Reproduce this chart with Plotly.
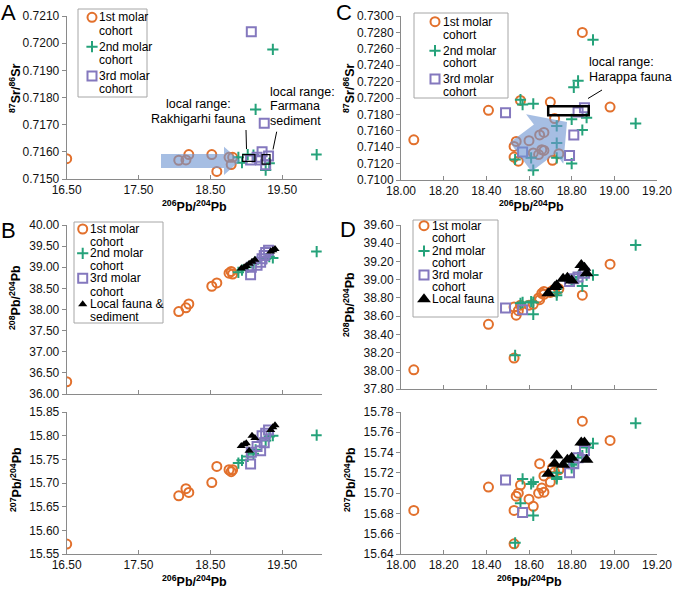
import plotly.graph_objects as go

W, H = 675, 590

# ---- Panels A/B (Rakhigarhi / Farmana) ----
ab_m1_pb206 = [16.50, 18.06, 18.16, 18.20, 18.52, 18.59, 18.76, 18.79, 18.81]
ab_m1_sr = [0.71575, 0.71569, 0.71570, 0.71590, 0.71590, 0.71528, 0.71580, 0.71553, 0.71580]
ab_m1_pb208 = [36.29, 37.95, 38.04, 38.13, 38.55, 38.63, 38.86, 38.90, 38.84]
ab_m1_pb207 = [15.571, 15.673, 15.688, 15.680, 15.701, 15.735, 15.728, 15.724, 15.728]

ab_m2_pb206 = [18.89, 18.94, 19.02, 19.10, 19.13, 19.27, 19.32, 19.37, 19.98]
ab_m2_sr = [0.71580, 0.71560, 0.71590, 0.71588, 0.71756, 0.71533, 0.71558, 0.71977, 0.71590]
ab_m2_pb208 = [38.88, 38.93, 39.00, 39.08, 39.12, 39.20, 39.25, 39.22, 39.37]
ab_m2_pb207 = [15.742, 15.748, 15.756, 15.762, 15.770, 15.790, 15.798, 15.800, 15.801]

ab_m3_pb206 = [19.06, 19.07, 19.15, 19.20, 19.22, 19.25, 19.27, 19.31]
ab_m3_sr = [0.71570, 0.72042, 0.71580, 0.71570, 0.71600, 0.71705, 0.71552, 0.71585]
ab_m3_pb208 = [38.82, 39.00, 39.05, 39.12, 39.20, 39.28, 39.35, 39.40]
ab_m3_pb207 = [15.740, 15.765, 15.777, 15.768, 15.800, 15.785, 15.805, 15.812]

ab_loc_pb206 = [18.93, 18.97, 19.00, 19.04, 19.08, 19.12, 19.34, 19.37, 19.40]
ab_loc_pb208 = [38.97, 39.00, 39.03, 39.08, 39.13, 39.18, 39.37, 39.40, 39.43]
ab_loc_pb207 = [15.778, 15.782, 15.784, 15.768, 15.800, 15.795, 15.812, 15.818, 15.822]

# ---- Panels C/D (Harappa) ----
cd_m1_pb206 = [18.06, 18.41, 18.53, 18.53, 18.54, 18.55, 18.56, 18.60, 18.62, 18.645,
               18.65, 18.66, 18.67, 18.67, 18.70, 18.71, 18.72, 18.74, 18.85, 18.98]
cd_m1_sr = [0.7149, 0.7185, 0.7128, 0.7141, 0.7147, 0.7123, 0.7197, 0.7148, 0.7133, 0.7131,
            0.7155, 0.7137, 0.7158, 0.7136, 0.7195, 0.7124, 0.7175, 0.7132, 0.7280, 0.7189]
cd_m1_pb208 = [38.01, 38.51, 38.14, 38.70, 38.61, 38.66, 38.72, 38.72, 38.73, 38.80,
               38.78, 38.85, 38.87, 38.84, 38.86, 38.88, 38.87, 38.90, 38.83, 39.17]
cd_m1_pb207 = [15.683, 15.706, 15.650, 15.683, 15.697, 15.700, 15.708, 15.694, 15.687, 15.700,
               15.729, 15.705, 15.717, 15.701, 15.711, 15.725, 15.721, 15.723, 15.771, 15.752]

cd_m2_pb206 = [18.535, 18.56, 18.57, 18.61, 18.62, 18.62, 18.73, 18.73, 18.73, 18.80,
               18.80, 18.81, 18.83, 18.85, 18.87, 18.90, 19.10]
cd_m2_sr = [0.7125, 0.7198, 0.7192, 0.7127, 0.7193, 0.7112, 0.7166, 0.7145, 0.7127, 0.7174,
            0.7120, 0.7213, 0.7221, 0.7161, 0.7176, 0.7271, 0.7169]
cd_m2_pb208 = [38.17, 38.74, 38.75, 38.76, 38.62, 38.75, 38.83, 38.90, 38.86, 38.98,
               39.00, 39.02, 39.03, 38.93, 39.05, 39.05, 39.38]
cd_m2_pb207 = [15.651, 15.690, 15.714, 15.709, 15.678, 15.711, 15.714, 15.716, 15.720, 15.725,
               15.728, 15.730, 15.735, 15.737, 15.745, 15.749, 15.769]

cd_m3_pb206 = [18.49, 18.57, 18.79, 18.81, 18.83, 18.86]
cd_m3_sr = [0.7182, 0.7134, 0.7130, 0.7155, 0.7183, 0.7188]
cd_m3_pb208 = [38.69, 38.67, 38.98, 39.01, 39.03, 39.07]
cd_m3_pb207 = [15.713, 15.681, 15.720, 15.729, 15.735, 15.742]

cd_loc_pb206 = [18.69, 18.72, 18.73, 18.76, 18.78, 18.80, 18.845, 18.86, 18.87]
cd_loc_pb208 = [38.85, 38.92, 38.94, 39.01, 39.02, 38.99, 39.16, 39.13, 39.07]
cd_loc_pb207 = [15.719, 15.729, 15.737, 15.728, 15.733, 15.735, 15.750, 15.750, 15.733]

# local range boxes (data units): x0, x1, y0, y1
rakhigarhi_range = [18.95, 19.12, 0.71565, 0.71590]
farmana_range = [19.22, 19.33, 0.71555, 0.71590]
harappa_range = [18.69, 18.88, 0.7179, 0.7190]

ORANGE = "#E2702C"
GREEN = "#25A27A"
PURPLE = "#8478BE"
FONT = "Liberation Sans, Arial, sans-serif"
AXC = "#8a8a8a"

STY = {
    "m1": dict(symbol="circle-open", size=9, color=ORANGE, line=dict(color=ORANGE, width=2)),
    "m2": dict(symbol="cross-thin-open", size=8, color=GREEN, line=dict(color=GREEN, width=2)),
    "m3": dict(symbol="square-open", size=9, color=PURPLE, line=dict(color=PURPLE, width=2)),
    "loc": dict(symbol="triangle-up", size=8, color="black", line=dict(width=0)),
    "locD": dict(symbol="triangle-up", size=12, color="black", line=dict(width=0)),
}


def pxx(x):
    return x / W


def pyy(y):
    return 1 - y / H


fig = go.Figure()


def add(xs, ys, key, ax):
    fig.add_trace(go.Scatter(x=xs, y=ys, mode="markers", marker=STY[key],
                             xaxis="x" + ax, yaxis="y" + ax, showlegend=False,
                             hoverinfo="x+y"))


# A
add(ab_m1_pb206, ab_m1_sr, "m1", "")
add(ab_m2_pb206, ab_m2_sr, "m2", "")
add(ab_m3_pb206, ab_m3_sr, "m3", "")
# B top
add(ab_m1_pb206, ab_m1_pb208, "m1", "2")
add(ab_m2_pb206, ab_m2_pb208, "m2", "2")
add(ab_m3_pb206, ab_m3_pb208, "m3", "2")
add(ab_loc_pb206, ab_loc_pb208, "loc", "2")
# B bottom
add(ab_m1_pb206, ab_m1_pb207, "m1", "3")
add(ab_m2_pb206, ab_m2_pb207, "m2", "3")
add(ab_m3_pb206, ab_m3_pb207, "m3", "3")
add(ab_loc_pb206, ab_loc_pb207, "loc", "3")
# C
add(cd_m1_pb206, cd_m1_sr, "m1", "4")
add(cd_m2_pb206, cd_m2_sr, "m2", "4")
add(cd_m3_pb206, cd_m3_sr, "m3", "4")
# D top
add(cd_m1_pb206, cd_m1_pb208, "m1", "5")
add(cd_m2_pb206, cd_m2_pb208, "m2", "5")
add(cd_m3_pb206, cd_m3_pb208, "m3", "5")
add(cd_loc_pb206, cd_loc_pb208, "locD", "5")
# D bottom
add(cd_m1_pb206, cd_m1_pb207, "m1", "6")
add(cd_m2_pb206, cd_m2_pb207, "m2", "6")
add(cd_m3_pb206, cd_m3_pb207, "m3", "6")
add(cd_loc_pb206, cd_loc_pb207, "locD", "6")


def xaxis(x0, x1, rng, dtick, labels=True):
    return dict(domain=[pxx(x0), pxx(x1)], range=rng, tick0=rng[0], dtick=dtick,
                tickformat=".2f", showgrid=False, zeroline=False, showline=True,
                linecolor=AXC, linewidth=1, ticks="inside", ticklen=4, tickcolor=AXC,
                automargin=False,
                showticklabels=labels, tickfont=dict(size=12, color="#111", family=FONT),
                fixedrange=True)


def yaxis(top, bottom, rng, dtick, fmt, anchor):
    return dict(domain=[pyy(bottom), pyy(top)], range=rng, tick0=rng[0], dtick=dtick,
                tickformat=fmt, showgrid=False, zeroline=False, showline=True,
                linecolor=AXC, linewidth=1, ticks="outside", ticklen=4, tickcolor=AXC,
                automargin=False,
                tickfont=dict(size=12, color="#111", family=FONT), anchor=anchor,
                fixedrange=True)


AB_X = (66.7, 321.7)
CD_X = (401.0, 657.0)
ab_xr = [16.5, 20.05]
cd_xr = [18.0, 19.2]

fig.update_layout(
    xaxis=dict(xaxis(*AB_X, ab_xr, 1.0), anchor="y"),
    yaxis=yaxis(16, 179, [0.715, 0.721], 0.001, ".4f", "x"),
    xaxis2=dict(xaxis(*AB_X, ab_xr, 1.0, labels=False), anchor="y2"),
    yaxis2=yaxis(225, 394, [36.0, 40.0], 0.5, ".2f", "x2"),
    xaxis3=dict(xaxis(*AB_X, ab_xr, 1.0), anchor="y3"),
    yaxis3=yaxis(412, 554, [15.55, 15.85], 0.05, ".2f", "x3"),
    xaxis4=dict(xaxis(*CD_X, cd_xr, 0.2), anchor="y4"),
    yaxis4=yaxis(16, 180, [0.710, 0.730], 0.002, ".4f", "x4"),
    xaxis5=dict(xaxis(*CD_X, cd_xr, 0.2, labels=False), anchor="y5"),
    yaxis5=yaxis(225, 389, [37.8, 39.6], 0.2, ".2f", "x5"),
    xaxis6=dict(xaxis(*CD_X, cd_xr, 0.2), anchor="y6"),
    yaxis6=yaxis(412, 554, [15.64, 15.78], 0.02, ".2f", "x6"),
    # pixel-space overlay for legend symbols
    xaxis7=dict(domain=[0, 1], range=[0, W], visible=False, fixedrange=True,
                automargin=False, anchor="y7"),
    yaxis7=dict(domain=[0, 1], range=[H, 0], visible=False, fixedrange=True,
                automargin=False, anchor="x7"),
)


def text(x, y, s, size=12, anchor="left", angle=0, bold=False):
    if bold:
        s = "<b>" + s + "</b>"
    fig.add_annotation(x=pxx(x), y=pyy(y), xref="paper", yref="paper", text=s,
                       showarrow=False, xanchor=anchor, yanchor="middle", textangle=angle,
                       font=dict(size=size, color="#000", family=FONT))


def line(x0, y0, x1, y1, width=1):
    fig.add_shape(type="line", xref="paper", yref="paper", x0=pxx(x0), y0=pyy(y0),
                  x1=pxx(x1), y1=pyy(y1), line=dict(color="black", width=width), layer="above")


def poly(points, color="rgba(112,150,210,0.62)"):
    d = "M " + " L ".join("%f,%f" % (pxx(a), pyy(b)) for a, b in points) + " Z"
    fig.add_shape(type="path", path=d, xref="paper", yref="paper", fillcolor=color,
                  line=dict(width=0), layer="above")


# axis titles
PB_X = "<sup>206</sup>Pb/<sup>204</sup>Pb"
text(195, 206, PB_X, 12.5, "center", bold=True)
text(195, 581, PB_X, 12.5, "center", bold=True)
text(531, 206, PB_X, 12.5, "center", bold=True)
text(529, 581, PB_X, 12.5, "center", bold=True)
SR_Y = "<sup>87</sup>Sr/<sup>86</sup>Sr"
text(15, 89, SR_Y, 12.5, "center", -90, True)
text(349, 89, SR_Y, 12.5, "center", -90, True)
text(15, 298, "<sup>208</sup>Pb/<sup>204</sup>Pb", 12.5, "center", -90, True)
text(349, 305, "<sup>208</sup>Pb/<sup>204</sup>Pb", 12.5, "center", -90, True)
text(16, 480, "<sup>207</sup>Pb/<sup>204</sup>Pb", 12.5, "center", -90, True)
text(350, 480, "<sup>207</sup>Pb/<sup>204</sup>Pb", 12.5, "center", -90, True)

# panel letters
text(8, 13, "A", 22, "center")
text(8, 231, "B", 22, "center")
text(344, 13, "C", 22, "center")
text(348, 229, "D", 22, "center")

# arrows (semi-transparent blue)
poly([(161, 154), (224, 154), (224, 146.7), (240, 160.7), (224, 175), (224, 168), (161, 168)])
poly([(509.9, 142.6), (533.9, 124.6), (526.1, 114.2), (567, 122), (563.3, 163.8),
      (555.5, 153.4), (531.5, 171.4)])

# local range boxes
for rng, ax, w in [(rakhigarhi_range, "", 1.2), (farmana_range, "", 1.2), (harappa_range, "4", 2.5)]:
    fig.add_shape(type="rect", xref="x" + ax, yref="y" + ax, x0=rng[0], x1=rng[1],
                  y0=rng[2], y1=rng[3], line=dict(color="black", width=w), layer="above")

# range labels
text(198, 104, "local range:", 12.5, "center")
text(198, 119, "Rakhigarhi fauna", 12.5, "center")
line(246, 130, 246.5, 149)
text(268, 92, "local range:", 12.5)
text(268, 106.5, "Farmana", 12.5)
text(268, 121, "sediment", 12.5)
line(276.7, 131.7, 273, 149.5)
text(587, 62, "local range:", 12.5)
text(587, 77, "Harappa fauna", 12.5)
line(588, 98.5, 602, 90)

# legends: box, marker x, text x, rows (style, marker y, text lines with y)
legends = [
    ((78, 9, 147, 97), 92, 97, [("m1", 17.3, ["1st molar", "cohort"], [17.3, 30.7]),
                               ("m2", 46.7, ["2nd molar", "cohort"], [46.7, 60]),
                               ("m3", 76, ["3rd molar", "cohort"], [76, 89.3])]),
    ((414, 13, 508, 98), 435, 441, [("m1", 21.7, ["1st molar", "cohort"], [21.7, 35]),
                                    ("m2", 50.7, ["2nd molar", "cohort"], [50.7, 63]),
                                    ("m3", 79, ["3rd molar", "cohort"], [79, 92])]),
    ((74, 222, 163, 323), 82.7, 87.5, [("m1", 229, ["1st molar", "cohort"], [229, 241.7]),
                                       ("m2", 253.3, ["2nd molar", "cohort"], [253.3, 266]),
                                       ("m3", 278.3, ["3rd molar", "cohort"], [278.3, 291.7]),
                                       ("loc", 304.3, ["Local fauna &", "sediment"], [304.3, 316.7])]),
    ((413, 220, 498, 317), 424, 430, [("m1", 225.7, ["1st molar", "cohort"], [225.7, 238.3]),
                                      ("m2", 251, ["2nd molar", "cohort"], [251, 262.7]),
                                      ("m3", 275, ["3rd molar", "cohort"], [275, 287.3]),
                                      ("locD", 299.3, ["Local fauna"], [299.3])]),
]
for (bx0, by0, bx1, by1), mx, tx, rows in legends:
    fig.add_shape(type="rect", xref="paper", yref="paper", x0=pxx(bx0), x1=pxx(bx1),
                  y0=pyy(by1), y1=pyy(by0), line=dict(color="#a6a6a6", width=1),
                  fillcolor="white", layer="below")
    for key, my, lines, ys in rows:
        fig.add_trace(go.Scatter(x=[mx], y=[my], mode="markers", marker=STY[key],
                                 xaxis="x7", yaxis="y7", showlegend=False, hoverinfo="skip"))
        for s, ly in zip(lines, ys):
            text(tx, ly, s, 12)

fig.update_layout(width=W, height=H,
                  margin=dict(l=0, r=0, t=0, b=0, pad=0, autoexpand=False),
                  paper_bgcolor="white", plot_bgcolor="rgba(0,0,0,0)",
                  font=dict(family=FONT, size=12, color="#111"), showlegend=False)

# drop the default 8px page margin so the figure fills the window exactly
fig.write_html("out.html", config={"displayModeBar": False},
               post_script="document.body.style.margin='0';document.body.style.overflow='hidden';")
